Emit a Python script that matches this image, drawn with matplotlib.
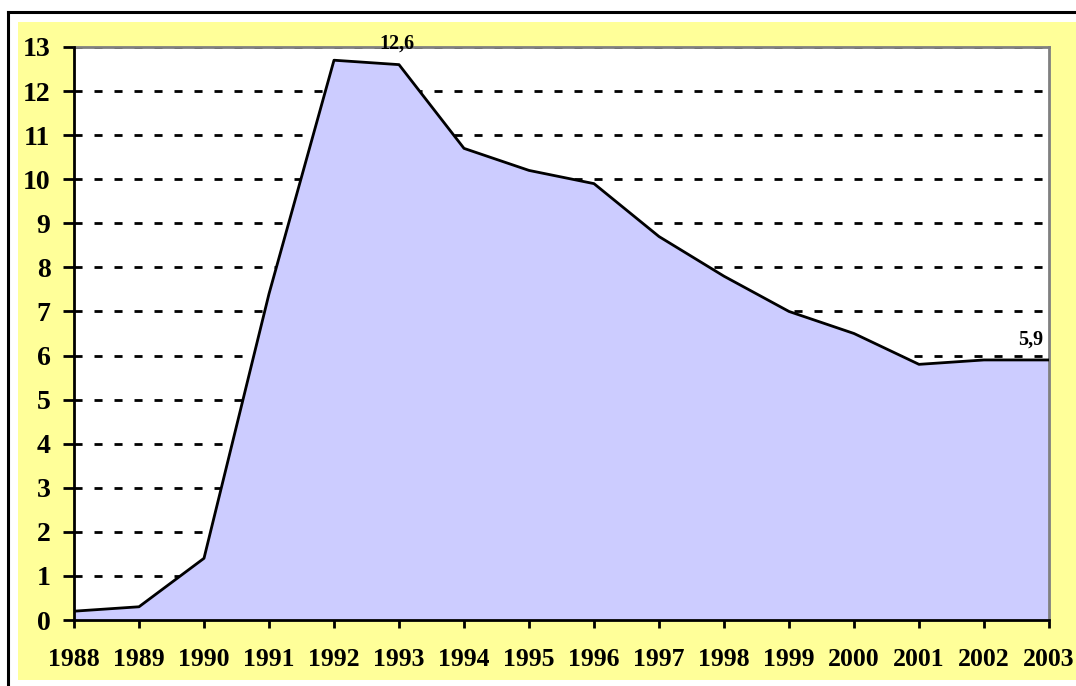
import matplotlib.pyplot as plt
from matplotlib.patches import Rectangle

years = [1988, 1989, 1990, 1991, 1992, 1993, 1994, 1995,
         1996, 1997, 1998, 1999, 2000, 2001, 2002, 2003]
values = [0.2, 0.3, 1.4, 7.4, 12.7, 12.6, 10.7, 10.2,
          9.9, 8.7, 7.8, 7.0, 6.5, 5.8, 5.9, 5.9]
labels = {1993: "12,6", 2003: "5,9"}

plt.rcParams['font.family'] = ['Liberation Serif', 'DejaVu Serif']
plt.rcParams['font.weight'] = 'bold'

W, H = 1076, 686
fig = plt.figure(figsize=(W / 100, H / 100), dpi=100)
fig.patch.set_facecolor('white')

# yellow chart area and outer black frame
fig.add_artist(Rectangle((18 / W, 1 - 680 / H), (W - 18) / W, (680 - 22) / H,
                         transform=fig.transFigure, facecolor='#FFFF99',
                         edgecolor='none', zorder=-5))
fig.add_artist(plt.Line2D([8 / W, 8 / W], [0, 1 - 12 / H], transform=fig.transFigure,
                          color='black', lw=2.2, zorder=-5))
fig.add_artist(plt.Line2D([8 / W, 1], [1 - 12 / H, 1 - 12 / H], transform=fig.transFigure,
                          color='black', lw=2.2, zorder=-5))

ax = fig.add_axes([74 / W, 1 - 620 / H, (1049 - 74) / W, (620 - 47) / H])
ax.set_zorder(1)
ax.set_facecolor('white')

ax.fill_between(years, values, 0, color='#CCCCFF', zorder=2)
ax.plot(years, values, color='black', lw=2, zorder=3)

ax.set_xlim(1988, 2003)
ax.set_ylim(0, 13)
ax.set_xticks(years)
ax.set_yticks(range(0, 14))
ax.tick_params(axis='both', direction='out', width=2)
ax.tick_params(axis='x', length=6, pad=14, labelsize=18.5)
ax.tick_params(axis='y', length=8, pad=9, labelsize=20)

for y in range(1, 14):
    ax.axhline(y, color='black', lw=2, linestyle=(0, (2.9, 4.3)), zorder=1)

for s in ['left', 'bottom']:
    ax.spines[s].set_color('black')
    ax.spines[s].set_linewidth(2)
    ax.spines[s].set_zorder(4)
for s in ['top', 'right']:
    ax.spines[s].set_color('#808080')
    ax.spines[s].set_linewidth(2)

for yr, txt in labels.items():
    v = values[years.index(yr)]
    if yr == 2003:
        ax.annotate(txt, (yr, v), xytext=(-4, 11), textcoords='offset points',
                    ha='right', va='baseline', fontsize=14.5, fontweight='bold')
    else:
        ax.annotate(txt, (yr, 13), xytext=(-1.5, -0.8), textcoords='offset points',
                    ha='center', va='baseline', fontsize=14.5, fontweight='bold',
                    zorder=5, annotation_clip=False)

fig.savefig('out.png', dpi=100)
